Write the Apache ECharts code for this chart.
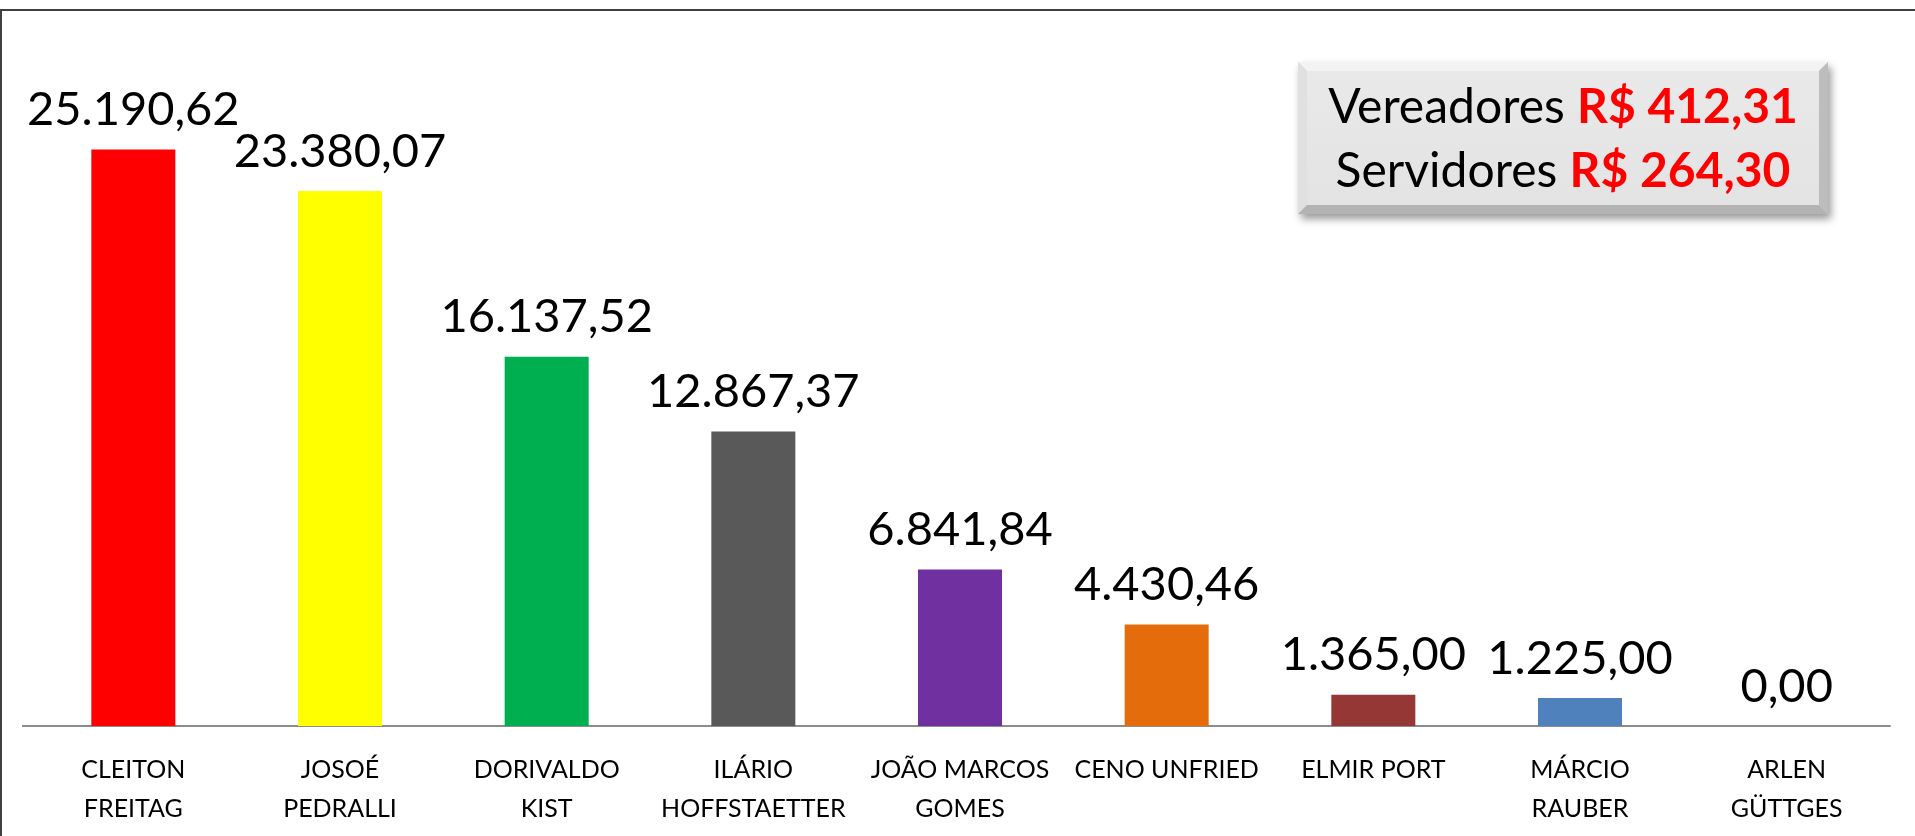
<!DOCTYPE html>
<html>
<head>
<meta charset="utf-8">
<script src="https://cdn.jsdelivr.net/npm/echarts@6/dist/echarts.min.js"></script>
<style>
html,body{margin:0;padding:0;background:#fff;}
#chart{width:1915px;height:836px;}
</style>
</head>
<body>
<div id="chart"></div>
<script>
const categories = ['CLEITON\nFREITAG','JOSOÉ\nPEDRALLI','DORIVALDO\nKIST','ILÁRIO\nHOFFSTAETTER','JOÃO MARCOS\nGOMES','CENO UNFRIED','ELMIR PORT','MÁRCIO\nRAUBER','ARLEN\nGÜTTGES'];
const values = [25190.62, 23380.07, 16137.52, 12867.37, 6841.84, 4430.46, 1365.00, 1225.00, 0.00];
const barColors = ['#FF0000','#FFFF00','#00B050','#595959','#7030A0','#E46C0A','#953735','#4F81BD','#4F81BD'];
const boxLabels = ['Vereadores', 'Servidores'];
const boxValues = ['R$ 412,31', 'R$ 264,30'];

function fmt(v){
  const parts = v.toFixed(2).split('.');
  parts[0] = parts[0].replace(/\B(?=(\d{3})+(?!\d))/g, '.');
  return parts[0] + ',' + parts[1];
}

const FONT = 'Lato, "Liberation Sans", sans-serif';
const bx = 1298, by = 62, bw = 530, bh = 152, bev = 9;

const chart = echarts.init(document.getElementById('chart'));
chart.setOption({
  backgroundColor: '#ffffff',
  animation: false,
  grid: { left: 30, right: 25, top: 60, bottom: 110, containLabel: false },
  xAxis: {
    type: 'category',
    data: categories,
    axisLine: { show: true, lineStyle: { color: '#8C8C8C', width: 2 } },
    axisTick: { show: false },
    axisLabel: {
      interval: 0, color: '#000', fontFamily: FONT, fontSize: 25,
      lineHeight: 39, margin: 24, align: 'center'
    }
  },
  yAxis: {
    type: 'value', min: 0, max: 29100,
    show: false, splitLine: { show: false }
  },
  series: [{
    type: 'bar',
    data: values.map((v, i) => ({ value: v, itemStyle: { color: barColors[i] } })),
    barWidth: 84,
    label: {
      show: true, position: 'top', distance: 16,
      color: '#000', fontFamily: FONT, fontSize: 47,
      formatter: p => fmt(p.value)
    }
  }],
  graphic: [
    { type: 'line', shape: { x1: 0, y1: 10, x2: 1915, y2: 10 }, style: { stroke: '#404040', lineWidth: 2 } },
    { type: 'line', shape: { x1: 1, y1: 10, x2: 1, y2: 836 }, style: { stroke: '#404040', lineWidth: 2 } },
    { type: 'line', shape: { x1: 22, y1: 726, x2: 31, y2: 726 }, style: { stroke: '#8C8C8C', lineWidth: 2 } },
    { type: 'rect', shape: { x: bx, y: by, width: bw, height: bh },
      style: { fill: '#d9d9d9', shadowBlur: 8, shadowOffsetX: 3, shadowOffsetY: 5, shadowColor: 'rgba(0,0,0,0.4)' } },
    { type: 'polygon', shape: { points: [[bx,by],[bx+bw,by],[bx+bw-bev,by+bev],[bx+bev,by+bev]] }, style: { fill: '#f3f3f3' } },
    { type: 'polygon', shape: { points: [[bx,by],[bx+bev,by+bev],[bx+bev,by+bh-bev],[bx,by+bh]] }, style: { fill: '#e0e0e0' } },
    { type: 'polygon', shape: { points: [[bx+bw,by],[bx+bw,by+bh],[bx+bw-bev,by+bh-bev],[bx+bw-bev,by+bev]] }, style: { fill: '#bdbdbd' } },
    { type: 'polygon', shape: { points: [[bx,by+bh],[bx+bev,by+bh-bev],[bx+bw-bev,by+bh-bev],[bx+bw,by+bh]] }, style: { fill: '#b3b3b3' } },
    { type: 'rect', shape: { x: bx+bev, y: by+bev, width: bw-2*bev, height: bh-2*bev },
      style: { fill: { type: 'linear', x: 0, y: 0, x2: 0, y2: 1, colorStops: [{ offset: 0, color: '#e9e9e9' }, { offset: 1, color: '#e3e3e3' }] } } },
    { type: 'text', x: bx + bw/2, y: by + bh/2 + 2,
      style: {
        text: boxLabels.map((l, i) => '{n|' + l + ' }{r|' + boxValues[i] + '}').join('\n'),
        align: 'center', verticalAlign: 'middle',
        rich: {
          n: { fontFamily: FONT, fontSize: 48, fill: '#000000', lineHeight: 64 },
          r: { fontFamily: FONT, fontSize: 48, fill: '#FF0000', fontWeight: 'bold', lineHeight: 64 }
        }
      }
    }
  ]
});
</script>
</body>
</html>
